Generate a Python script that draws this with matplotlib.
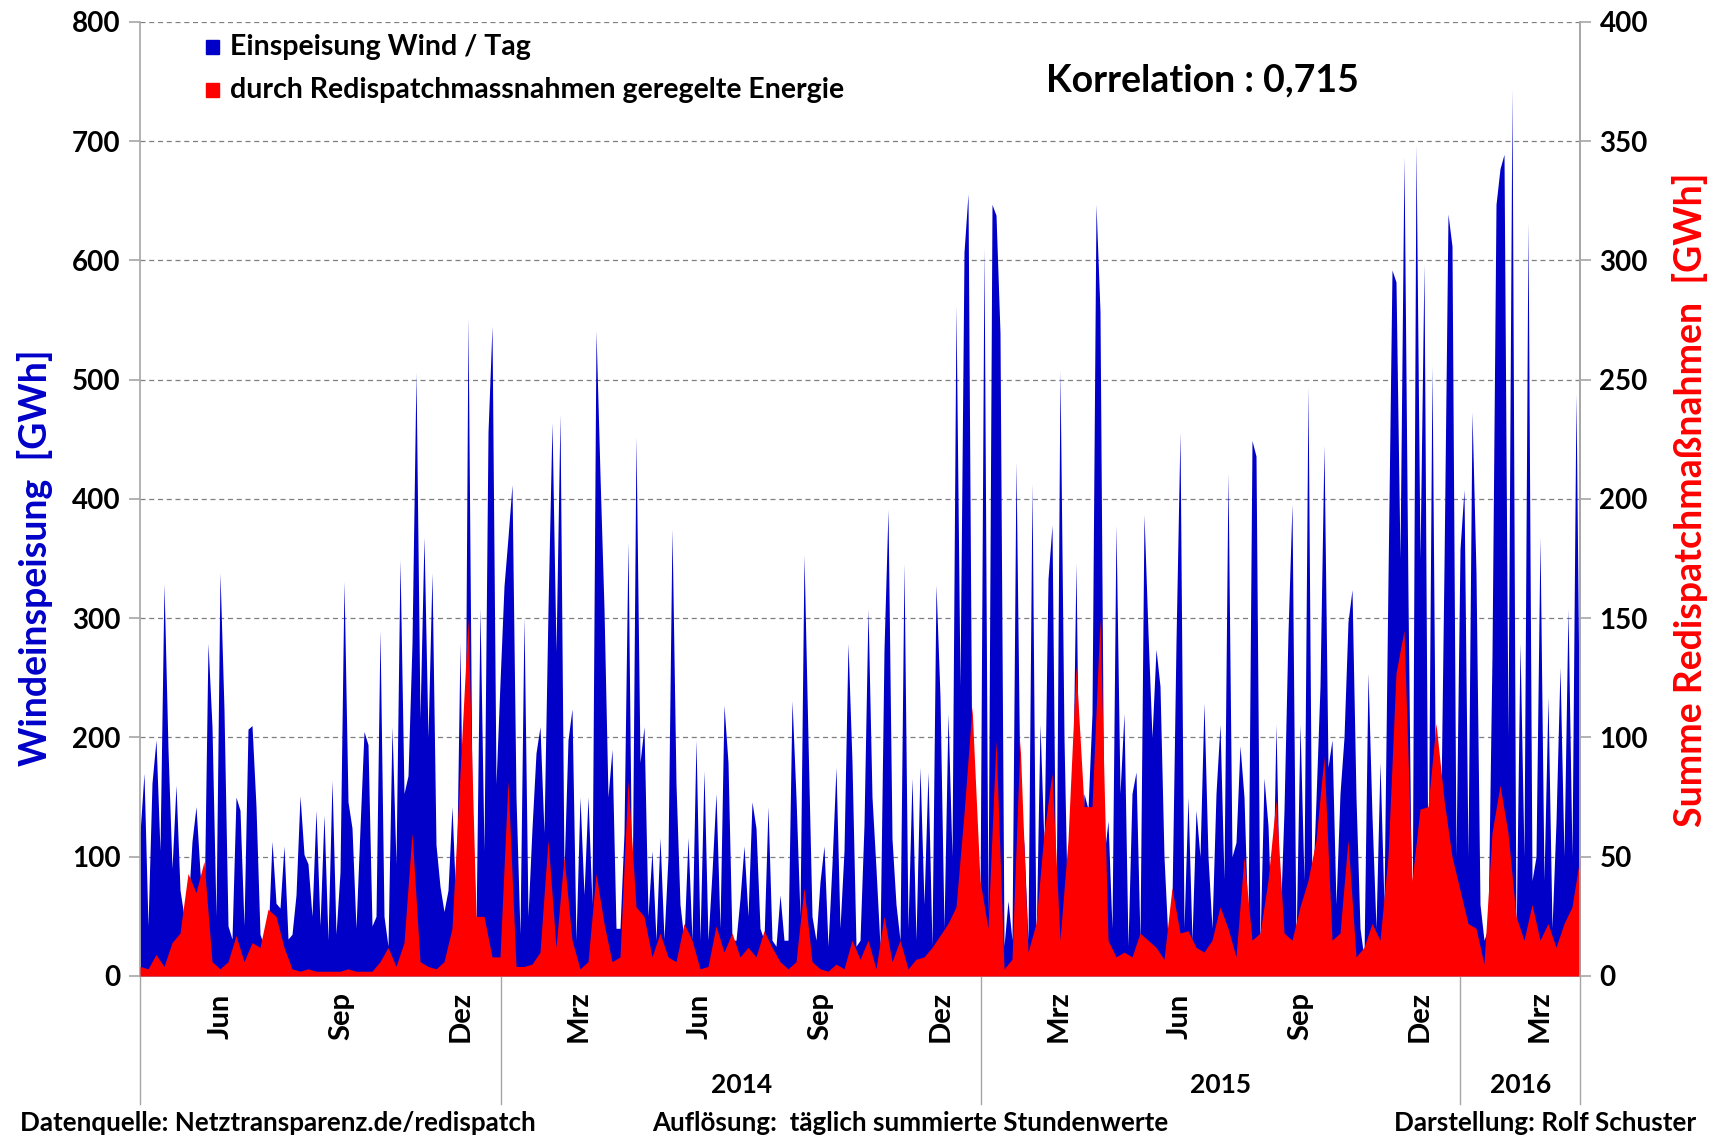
import numpy as np
import pandas as pd
import matplotlib
matplotlib.use('Agg')
import matplotlib.pyplot as plt
import matplotlib.transforms as mtransforms
from matplotlib.patches import Rectangle

plt.rcParams['font.family'] = ['Lato', 'DejaVu Sans']
plt.rcParams['font.weight'] = 'bold'

# Windeinspeisung [GWh/Tag], gleichmaessig ueber Apr 2013 - Mrz 2016 verteilt
wind_so13 = [120, 170, 42, 162, 198, 105, 329, 190, 90, 160, 72, 50, 57, 113, 142, 87, 50, 279, 209, 50,
             338, 223, 42, 31, 150, 139, 42, 207, 210, 142, 35, 25, 31, 113, 61, 57, 109, 31, 35, 68,
             151, 102, 94, 50, 139, 42, 135, 30, 164, 35, 87, 331, 146, 124, 40, 124, 205, 194, 42, 50]
wind_wi13 = [290, 50, 25, 209, 94, 349, 153, 168, 279, 506, 216, 368, 200, 338, 110, 75, 54, 72, 142, 57,
             279, 30, 552, 150, 40, 308, 105, 456, 545, 161, 246, 327, 368, 412, 150, 35, 301, 50, 124, 187,
             209, 120, 308, 464, 272, 471, 87, 198, 224, 30, 150, 68, 150, 60, 541, 420, 308, 150, 190, 40]
wind_so14 = [40, 120, 364, 50, 452, 179, 209, 50, 105, 30, 116, 31, 100, 375, 161, 60, 30, 116, 30, 198,
             30, 172, 30, 87, 153, 40, 227, 179, 30, 30, 65, 109, 50, 146, 124, 40, 30, 142, 30, 25,
             68, 30, 30, 231, 150, 50, 353, 198, 50, 30, 79, 109, 25, 94, 175, 40, 105, 279, 179, 25]
wind_wi14 = [30, 127, 308, 150, 90, 25, 274, 391, 115, 60, 30, 346, 40, 166, 30, 175, 60, 171, 25, 328,
             234, 40, 220, 100, 562, 243, 607, 656, 150, 100, 60, 611, 50, 647, 638, 539, 25, 63, 30, 431,
             150, 110, 30, 413, 25, 211, 110, 333, 378, 40, 508, 200, 30, 120, 346, 60, 153, 140, 220, 647]
wind_so15 = [557, 100, 130, 40, 378, 153, 220, 25, 153, 171, 30, 387, 288, 200, 274, 243, 100, 30, 63, 280,
             456, 40, 150, 30, 139, 100, 229, 100, 40, 153, 211, 81, 422, 100, 112, 193, 150, 40, 449, 436,
             25, 166, 126, 30, 211, 40, 139, 288, 396, 25, 211, 80, 494, 60, 148, 243, 445, 175, 198, 60]
wind_wi15 = [153, 200, 297, 324, 150, 40, 15, 254, 134, 40, 179, 60, 333, 592, 582, 350, 687, 318, 15, 697,
             350, 597, 70, 512, 100, 85, 343, 639, 612, 100, 358, 408, 100, 473, 338, 60, 30, 40, 269, 647,
             677, 689, 200, 744, 25, 279, 100, 632, 80, 100, 368, 80, 234, 40, 129, 259, 100, 308, 100, 488,
             150]

# Redispatch [GWh/Tag], rechte Achse
redis_13 = [4, 3, 9, 4, 14, 18, 43, 35, 48, 6, 3, 6, 17, 6, 14, 12, 28, 25, 12, 3,
            2, 3, 2, 2, 2, 2, 3, 2, 2, 2, 6, 12, 4, 14, 60, 6, 4, 3, 6, 20,
            85, 150, 25, 25, 8]
redis_14a = [8, 82, 4, 4, 5, 10, 57, 12, 50, 15, 3, 6, 43, 22, 6, 8, 82, 29, 25, 8,
             18, 8, 6, 22, 15, 3, 4, 21, 10, 18, 8, 12, 8, 19, 12, 6, 3, 6, 37, 6,
             3, 2, 5, 3, 15]
redis_14b = [7, 15, 3, 25, 6, 15, 3, 7, 8, 12, 17, 22, 29, 68, 113, 40, 20, 99, 3, 7,
             99, 10, 22, 60, 85, 15, 57, 130, 71, 71, 150, 15, 8, 10, 8, 18, 15, 12, 7, 37,
             18, 19, 12, 10, 15]
redis_15 = [29, 20, 8, 50, 15, 18, 40, 74, 18, 15, 29, 40, 57, 92, 15, 18, 57, 8, 12, 22,
            15, 50, 127, 145, 40, 70, 71, 106, 74, 50, 36, 22, 20, 5, 60, 80, 60, 25, 15, 30,
            15, 22, 12, 22, 29, 50]

month_labels = ['Jun', 'Sep', 'Dez', 'Mrz', 'Jun', 'Sep', 'Dez', 'Mrz', 'Jun', 'Sep', 'Dez', 'Mrz']
month_dates = ['2013-06-01', '2013-09-01', '2013-12-01', '2014-03-01', '2014-06-01', '2014-09-01',
               '2014-12-01', '2015-03-01', '2015-06-01', '2015-09-01', '2015-12-01', '2016-03-01']
year_labels = ['2014', '2015', '2016']
year_bounds = ['2013-04-01', '2014-01-01', '2015-01-01', '2016-01-01', '2016-04-01']

blue = '#0000c8'
red = '#ff0000'
grau = '#a6a6a6'

wind = np.array(wind_so13 + wind_wi13 + wind_so14 + wind_wi14 + wind_so15 + wind_wi15)
redis = np.array(redis_13 + redis_14a + redis_14b + redis_15)
start = pd.Timestamp(year_bounds[0])
end = pd.Timestamp(year_bounds[-1])
t_wind = pd.date_range(start, end, periods=len(wind))
t_red = pd.date_range(start, end, periods=len(redis))

fig = plt.figure(figsize=(17.17, 11.38), dpi=100)
ax = fig.add_axes([0.08154, 0.14236, 0.83867, 0.83831])
ax.fill_between(t_wind, wind, color=blue, lw=0)
ax.set_xlim(start, end)
ax.set_ylim(0, 800)
ax.set_yticks(range(0, 801, 100))
ax.set_xticks([])
ax.grid(axis='y', ls=(0, (4, 3)), color='#7f7f7f', lw=0.9)
ax.set_axisbelow(True)

ax2 = ax.twinx()
ax2.fill_between(t_red, redis, color=red, lw=0)
ax2.set_ylim(0, 400)
ax2.set_yticks(range(0, 401, 50))
ax2.set_xlim(start, end)

for a in (ax, ax2):
    a.spines['top'].set_visible(False)
    for s in a.spines.values():
        s.set_color(grau)
        s.set_linewidth(1.2)
    a.tick_params(axis='y', labelsize=20, length=8, width=1.2, color=grau, pad=6)
ax2.spines['left'].set_visible(False)
ax2.spines['bottom'].set_visible(False)

# Kategorieachse unten
trans = mtransforms.blended_transform_factory(ax.transData, ax.transAxes)
for lab, d in zip(month_labels, month_dates):
    ax.text(pd.Timestamp(d), -0.042, lab, transform=trans, rotation=90,
            ha='center', va='center', fontsize=21)
for d in year_bounds:
    ax.plot([pd.Timestamp(d)] * 2, [0, -0.134], transform=trans, color=grau,
            lw=1.0, clip_on=False)
for i, lab in enumerate(year_labels):
    a0 = pd.Timestamp(year_bounds[i + 1])
    a1 = pd.Timestamp(year_bounds[i + 2])
    ax.text(a0 + (a1 - a0) / 2, -0.114, lab, transform=trans,
            ha='center', va='center', fontsize=19)

# Legende
for i, (lab, c) in enumerate([('Einspeisung Wind / Tag', blue),
                              ('durch Redispatchmassnahmen geregelte Energie', red)]):
    y = 1 - (47 + i * 43) / 1138
    fig.add_artist(Rectangle((206 / 1717, y - 7 / 1138), 13 / 1717, 14 / 1138,
                             transform=fig.transFigure, color=c))
    fig.text(230 / 1717, y, lab, va='center', fontsize=20.5)

fig.text(1202 / 1717, 1 - 80 / 1138, 'Korrelation : 0,715', ha='center', va='center', fontsize=27)

fig.text(35 / 1717, 1 - 558 / 1138, 'Windeinspeisung  [GWh]', rotation=90, color=blue,
         ha='center', va='center', fontsize=27)
fig.text(1690 / 1717, 1 - 500 / 1138, 'Summe Redispatchmaßnahmen  [GWh]', rotation=90, color=red,
         ha='center', va='center', fontsize=27)

fig.text(20 / 1717, 1 - 1123 / 1138, 'Datenquelle: Netztransparenz.de/redispatch', va='center', fontsize=18.7)
fig.text(910 / 1717, 1 - 1123 / 1138, 'Auflösung:  täglich summierte Stundenwerte', ha='center',
         va='center', fontsize=18.7)
fig.text(1696 / 1717, 1 - 1123 / 1138, 'Darstellung: Rolf Schuster', ha='right', va='center', fontsize=18.7)

fig.savefig('out.png', dpi=100)
